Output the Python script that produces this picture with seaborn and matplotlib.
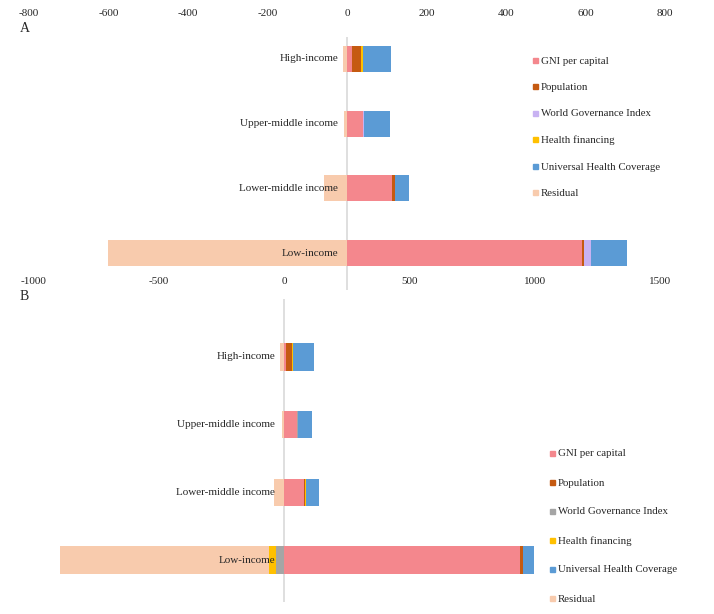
import numpy as np
import pandas as pd
import matplotlib
matplotlib.use("Agg")
import matplotlib.pyplot as plt
import seaborn as sns
from matplotlib.lines import Line2D

# categories / series
income = ["High-income", "Upper-middle income", "Lower-middle income", "Low-income"]
factors = ["GNI per capital", "Population", "World Governance Index",
           "Health financing", "Universal Health Coverage", "Residual"]

# panel A
a_gni = [13, 41, 114, 592]
a_pop = [23, 0, 6, 4]
a_wgi = [0, 3, 0, 17]
a_hf = [5, 0, 0, 0]
a_uhc = [69, 65, 35, 92]
a_res = [-11, -8, -58, -602]

# panel B
b_gni = [9, 53, 78, 940]
b_pop = [24, 0, 4, 13]
b_wgi = [0, 3, 3, -33]
b_hf = [4, 0, 4, -28]
b_uhc = [82, 54, 52, 44]
b_res = [-14, -7, -38, -832]

a_ticks = [-800, -600, -400, -200, 0, 200, 400, 600, 800]
b_ticks = [-1000, -500, 0, 500, 1000, 1500]

cols_a = ["#F4878D", "#C55A11", "#C8B2F2", "#FFC000", "#5B9BD5", "#F8CBAD"]
cols_b = ["#F4878D", "#C55A11", "#A5A5A5", "#FFC000", "#5B9BD5", "#F8CBAD"]

sns.set_style("white")
plt.rcParams["font.family"] = ["Liberation Serif", "DejaVu Serif"]
plt.rcParams["axes.unicode_minus"] = False

W, H = 714, 614
fig = plt.figure(figsize=(W / 100, H / 100), dpi=100)


def px_axes(x0, x1, y0, y1):
    # pixel box (top-left origin) -> figure axes
    return fig.add_axes([x0 / W, 1 - y1 / H, (x1 - x0) / W, (y1 - y0) / H])


def stacked(ax, series, colors):
    vals = np.array(series, dtype=float)
    pos = np.cumsum(np.clip(vals, 0, None), axis=0)
    neg = np.cumsum(np.clip(vals, None, 0), axis=0)
    # draw outermost cumulative first so inner segments cover it
    for k in range(len(vals) - 1, -1, -1):
        for cum in (pos, neg):
            df = pd.DataFrame({"income": income, "v": cum[k]})
            sns.barplot(data=df, x="v", y="income", orient="h", color=colors[k],
                        saturation=1, width=0.4, errorbar=None, linewidth=0,
                        ax=ax, zorder=2)


def style(ax, xlim, ticks, ylim, pad):
    ax.set_xlim(*xlim)
    ax.set_ylim(*ylim)
    ax.set_xticks(ticks)
    ax.set_xticklabels([str(t) for t in ticks])
    ax.xaxis.tick_top()
    ax.tick_params(axis="x", length=0, pad=pad, labelsize=8)
    ax.set_yticks([])
    ax.set_xlabel("")
    ax.set_ylabel("")
    for s in ax.spines.values():
        s.set_visible(False)
    ax.axvline(0, color="#D9D9D9", lw=1.2, zorder=1)
    for i, name in enumerate(income):
        ax.annotate(name, (0, i), xytext=(-9, 0), textcoords="offset pixels",
                    ha="right", va="center", fontsize=8, zorder=5)


def legend(x, y0, step, colors):
    for i, (lab, c) in enumerate(zip(factors, colors)):
        y = 1 - (y0 + i * step) / H
        fig.add_artist(Line2D([x / W], [y + 1.5 / H], marker="s", ms=3.6, color=c,
                              lw=0, transform=fig.transFigure))
        fig.text((x + 6) / W, y, lab, fontsize=7.8, va="center", ha="left")


# panel A
axA = px_axes(29, 665, 37, 290)
stacked(axA, [a_gni, a_pop, a_wgi, a_hf, a_uhc, a_res], cols_a)
style(axA, (-800, 800), a_ticks, (3 + 37 / 64.67, -22 / 64.67), 14)
legend(535, 61, 26.5, cols_a)
fig.text(20 / W, 1 - 29 / H, "A", fontsize=10, va="center", ha="left")

# panel B
axB = px_axes(33.2, 660.2, 299, 602)
stacked(axB, [b_gni, b_pop, b_wgi, b_hf, b_uhc, b_res], cols_b)
style(axB, (-1000, 1500), b_ticks, (3 + 42 / 67.67, -58 / 67.67), 9)
legend(552, 454, 29, cols_b)
fig.text(20 / W, 1 - 297 / H, "B", fontsize=10, va="center", ha="left")

fig.savefig("out.png", dpi=100)
